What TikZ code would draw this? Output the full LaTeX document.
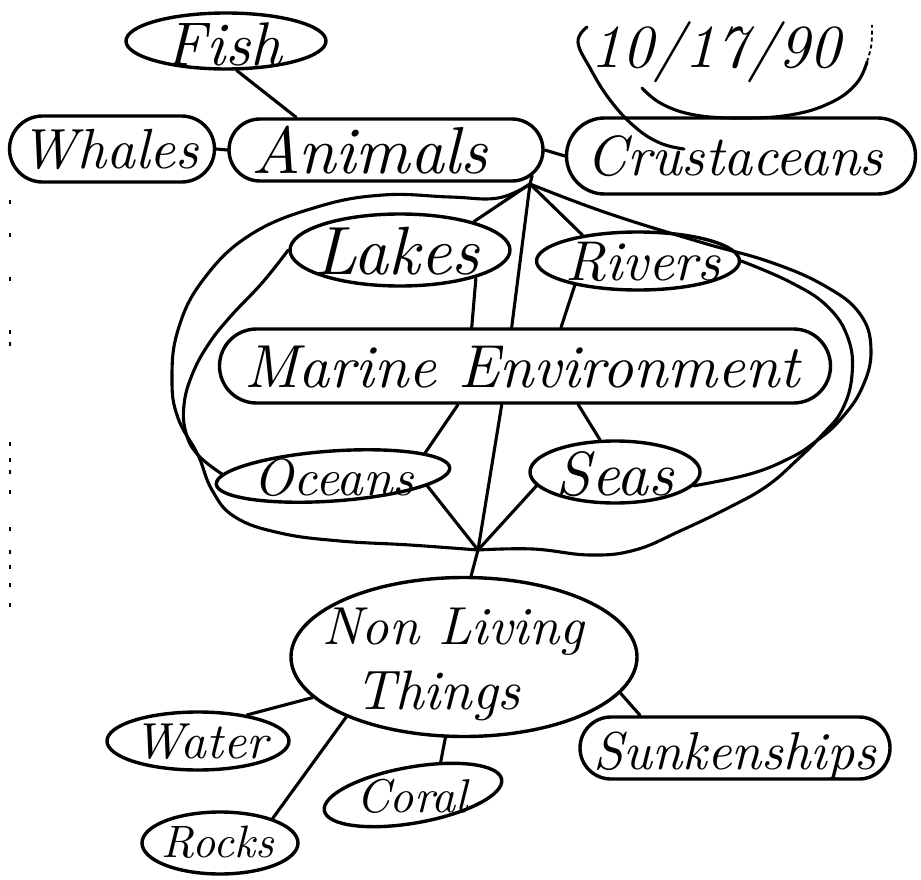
\documentclass[tikz,border=0pt]{standalone}
\usepackage{graphicx}
\usetikzlibrary{shapes.geometric,shapes.misc}
\newcommand{\hwt}[2]{\resizebox{#1pt}{!}{\itshape #2}}
\begin{document}
\begin{tikzpicture}[x=1pt,y=-1pt,
  bub/.style={draw, line width=3.4pt, ellipse, inner sep=0pt},
  rbub/.style={draw, line width=3.4pt, rounded rectangle, inner sep=0pt},
  hw/.style={inner sep=0pt},
  link/.style={line width=3.1pt, line cap=round, line join=round},
  faint/.style={line width=1.8pt, dash pattern=on 4pt off 3pt}]
\useasboundingbox (0,0) rectangle (921,880);
\fill[white] (0,0) rectangle (921,880);

% ---- bubbles
\node[bub, minimum width=200pt, minimum height=56pt] (fish) at (226,41) {};
\node[rbub, minimum width=205pt, minimum height=66pt] (whales) at (112,149) {};
\node[rbub, minimum width=314pt, minimum height=62pt] (animals) at (386,150) {};
\node[rbub, minimum width=349pt, minimum height=76pt] (crust) at (741,156) {};
\node[bub, minimum width=220pt, minimum height=72pt] (lakes) at (400,250) {};
\node[bub, minimum width=203pt, minimum height=58pt] (rivers) at (638,261) {};
\node[rbub, minimum width=611pt, minimum height=74pt] (marine) at (525,366) {};
\node[bub, minimum width=234pt, minimum height=50pt, rotate=4] (oceans) at (333,476) {};
\node[bub, minimum width=170pt, minimum height=62pt] (seas) at (615,472) {};
\node[bub, minimum width=346pt, minimum height=159pt] (nonliving) at (464,657) {};
\node[bub, minimum width=182pt, minimum height=58pt] (water) at (198,741) {};
\node[bub, minimum width=180pt, minimum height=56pt, rotate=10] (coral) at (413,795) {};
\node[rbub, minimum width=310pt, minimum height=62pt] (sunken) at (735,748) {};
\node[bub, minimum width=156pt, minimum height=62pt] (rocks) at (220,843) {};

% ---- texts
\node[hw] (tfish) at (224,44) {\hwt{116}{Fish}};
\node[hw] (twhales) at (110,149) {\hwt{178}{Whales}};
\node[hw] (tanimals) at (370,150) {\hwt{236}{Animals}};
\node[hw] (tcrust) at (735,156) {\hwt{296}{Crustaceans}};
\node[hw] (tdate) at (716,52) {\hwt{250}{10/17/90}};
\node[hw] (tlakes) at (397,251) {\hwt{165}{Lakes}};
\node[hw] (trivers) at (643,262) {\hwt{155}{Rivers}};
\node[hw] (tmarine) at (522,367) {\hwt{555}{Marine Environment}};
\node[hw] (toceans) at (334,478) {\hwt{160}{Oceans}};
\node[hw] (tseas) at (615,474) {\hwt{118}{Seas}};
\node[hw] (tnon) at (453,632) {\hwt{262}{Non Living}};
\node[hw] (tthings) at (438,696) {\hwt{165}{Things}};
\node[hw] (twater) at (201,742) {\hwt{134}{Water}};
\node[hw] (tcoral) at (412,796) {\hwt{112}{Coral}};
\node[hw] (tsunken) at (735,756) {\hwt{282}{Sunkenships}};
\node[hw] (trocks) at (218,842) {\hwt{112}{Rocks}};

% ---- junctions
\coordinate (j1) at (530,184);
\coordinate (j2) at (478,550);

% ---- connectors
\draw[link] (fish.-70) -- (animals.160);
\draw[link] (whales.east) -- (animals.west);
\draw[link] (animals.east) -- (crust.west);
\draw[link] (animals.-10) -- (j1);
\draw[link] (j1) -- (lakes.21);
\draw[link] (j1) -- (marine.109);
\draw[link] (j1) -- (rivers.155);
\draw[link] (lakes.-20) -- (marine.144);
\draw[link] (rivers.-159) -- (marine.47);
\draw[link] (marine.-150) -- (oceans.10);
\draw[link] (marine.-121) -- (j2);
\draw[link] (marine.-36) -- (seas.115);
\draw[link] (oceans.-10) -- (j2);
\draw[link] (seas.-170) -- (j2);
\draw[link] (j2) -- (nonliving.85);
\draw[link] (nonliving.-165) -- (water.28);
\draw[link] (nonliving.-153) -- (rocks.25);
\draw[link] (nonliving.-103) -- (coral.40);
\draw[link] (nonliving.-13) -- (sunken.161);

% ---- big loops
\draw[link] plot[smooth, tension=0.7] coordinates {(j1) (498,198) (450,197) (383,195) (317,207) (250,235) (203,280) (178,330) (172,380) (178,418) (198,455) (212,490) (235,517) (280,533) (340,541) (410,545) (j2)};
\draw[link] plot[smooth, tension=0.7] coordinates {(lakes.west) (262,283) (230,317) (208,345) (192,375) (184,405) (186,433) (198,455) (oceans.175)};
\draw[link] plot[smooth, tension=0.7] coordinates {(j1) (607,213) (700,242) (770,262) (825,286) (860,314) (871,350) (862,388) (840,420) (815,442) (790,458) (750,474) (seas.-10)};
\draw[link] plot[smooth, tension=0.7] coordinates {(rivers.east) (790,282) (827,306) (848,338) (852,375) (842,410) (822,435) (797,460) (767,486) (730,507) (680,531) (635,550) (590,555) (533,549) (j2)};

% ---- date marks
\draw[link] plot[smooth, tension=0.7] coordinates {(587,27) (578,42) (590,68) (610,100) (635,127) (660,143) (684,149)};
\draw[link] plot[smooth, tension=0.7] coordinates {(642,88) (662,104) (695,115) (740,118) (790,115) (830,103) (856,84) (867,62)};
\draw[faint] (867,62) .. controls (872,45) .. (872,25);

% ---- scan specks on the left margin
\foreach \yy in {200,233,277,330,342,442,458,470,490,527,550,565,583,603}
  \draw[line width=1.6pt] (10,\yy) -- (10,\yy+4);
\end{tikzpicture}
\end{document}
